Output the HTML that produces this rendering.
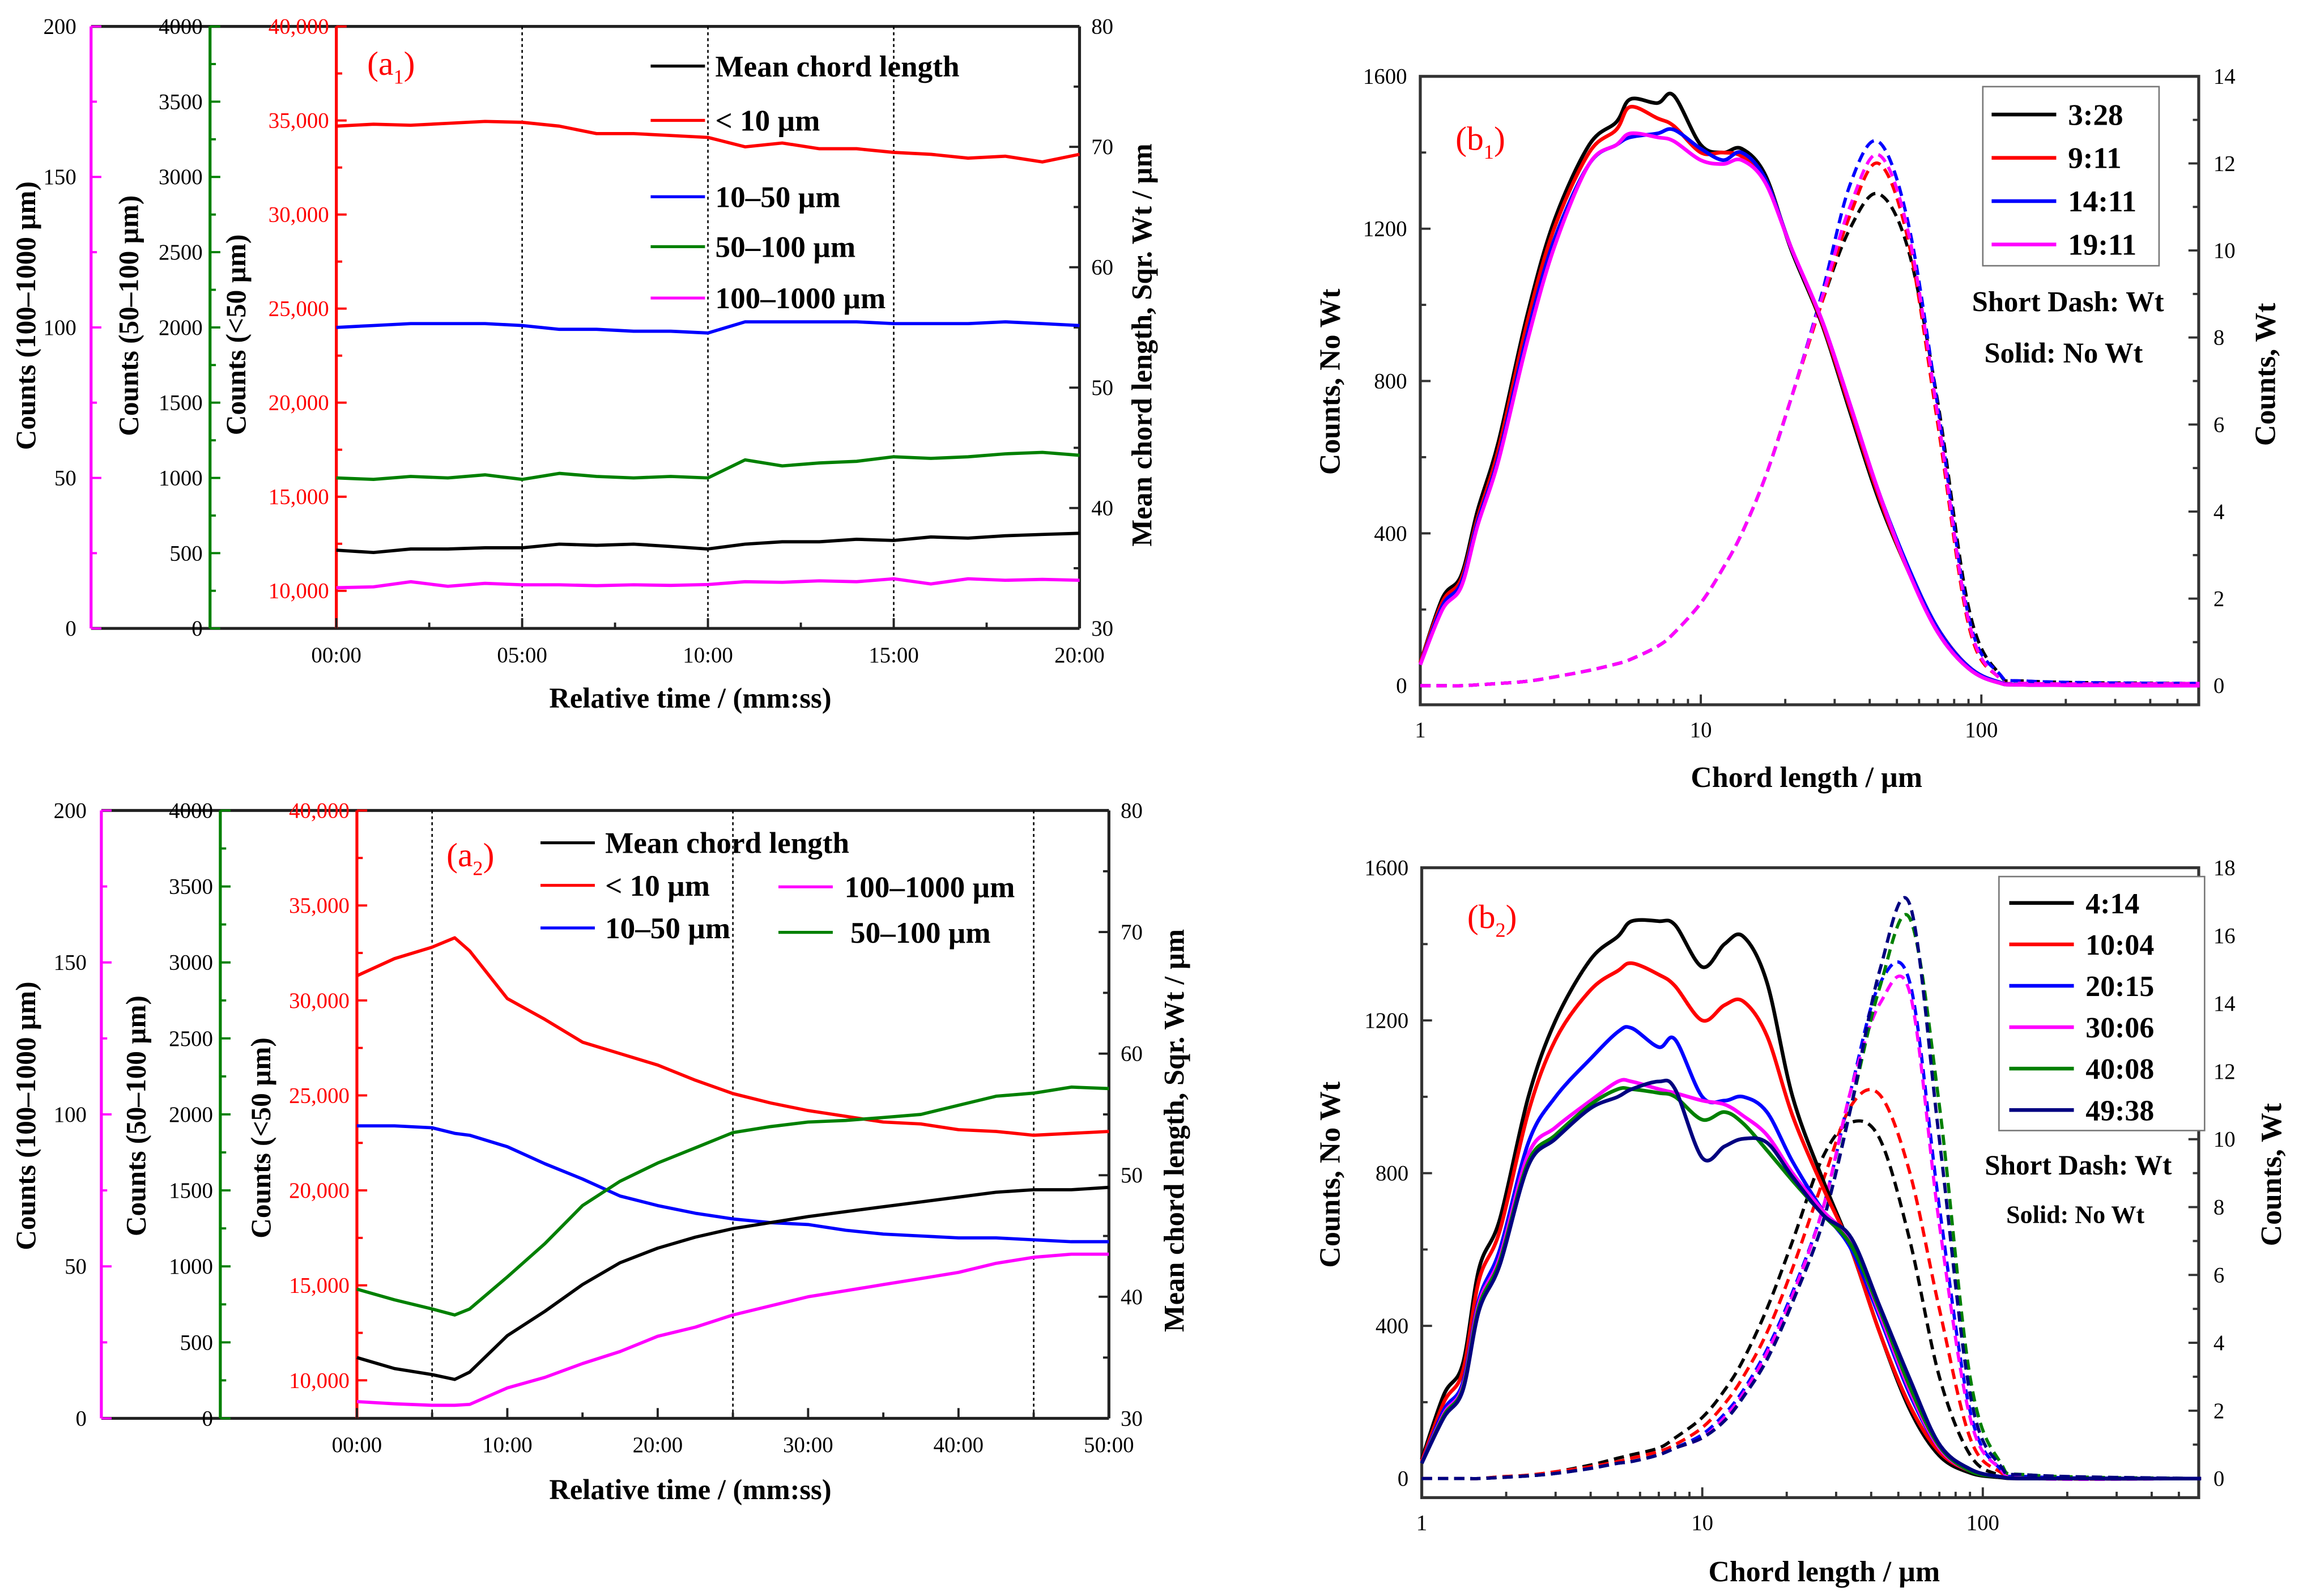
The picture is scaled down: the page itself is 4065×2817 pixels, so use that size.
<!DOCTYPE html>
<html><head><meta charset="utf-8"><style>
html,body{margin:0;padding:0;background:#fff;}
svg{display:block;font-family:"Liberation Serif",serif;}
</style></head><body>
<svg id="fig" xmlns="http://www.w3.org/2000/svg" width="4065" height="2817" viewBox="0 0 1568 1087" preserveAspectRatio="none">
<rect x="0" y="0" width="1568" height="1087" fill="#fff"/>
</svg>
<script>
// ---------- Panel a1 data (time in minutes) ----------
const a1Time = [0,1,2,3,4,5,6,7,8,9,10,11,12,13,14,15,16,17,18,19,20];
const a1Lt10 = [34700,34800,34750,34850,34950,34900,34700,34300,34300,34200,34100,33600,33800,33500,33500,33300,33200,33000,33100,32800,33200];
const a1B10to50 = [24000,24100,24200,24200,24200,24100,23900,23900,23800,23800,23700,24300,24300,24300,24300,24200,24200,24200,24300,24200,24100];
const a1B50to100 = [1000,990,1010,1000,1020,990,1030,1010,1000,1010,1000,1120,1080,1100,1110,1140,1130,1140,1160,1170,1150];
const a1B100to1000 = [13.5,13.8,15.5,14,15,14.5,14.5,14.2,14.5,14.3,14.6,15.5,15.3,15.8,15.5,16.5,14.8,16.5,16,16.3,16];
const a1Mean = [36.5,36.3,36.6,36.6,36.7,36.7,37.0,36.9,37.0,36.8,36.6,37.0,37.2,37.2,37.4,37.3,37.6,37.5,37.7,37.8,37.9];
const a1TickLabels = ["00:00","05:00","10:00","15:00","20:00"];
// ---------- Panel a2 data ----------
const a2Time = [0,2.5,5,6.5,7.5,10,12.5,15,17.5,20,22.5,25,27.5,30,32.5,35,37.5,40,42.5,45,47.5,50];
const a2Lt10 = [31300,32200,32800,33300,32600,30100,29000,27800,27200,26600,25800,25100,24600,24200,23900,23600,23500,23200,23100,22900,23000,23100];
const a2B10to50 = [23400,23400,23300,23000,22900,22300,21400,20600,19700,19200,18800,18500,18300,18200,17900,17700,17600,17500,17500,17400,17300,17300];
const a2B50to100 = [850,780,720,680,720,930,1150,1400,1560,1680,1780,1880,1920,1950,1960,1980,2000,2060,2120,2140,2180,2170];
const a2B100to1000 = [5.5,4.8,4.3,4.3,4.6,10,13.5,18,22,27,30,34,37,40,42,44,46,48,51,53,54,54];
const a2Mean = [35.0,34.1,33.6,33.2,33.8,36.8,38.8,41.0,42.8,44.0,44.9,45.6,46.1,46.6,47.0,47.4,47.8,48.2,48.6,48.8,48.8,49.0];
const a2TickLabels = ["00:00","10:00","20:00","30:00","40:00","50:00"];
// ---------- Panel b data (log x) ----------
const chord = [1,1.2,1.4,1.6,1.9,2.4,3,4,5,5.6,7,8,10,12,14,17,21,27,34,43,55,70,90,115,150,600];
const b1Labels = ["3:28","9:11","14:11","19:11"];
const b1Solid328 = [60,230,290,460,640,970,1220,1420,1480,1540,1530,1550,1420,1400,1410,1340,1145,950,720,490,300,140,45,8,2,0];
const b1Solid911 = [60,220,280,440,620,950,1200,1400,1460,1520,1490,1470,1400,1400,1390,1330,1150,955,730,500,300,150,50,10,2,0];
const b1Solid1411 = [55,210,270,430,600,920,1170,1370,1420,1440,1450,1460,1410,1380,1400,1330,1150,960,740,510,310,150,50,10,2,0];
const b1Solid1911 = [55,200,260,420,590,900,1150,1370,1420,1450,1440,1430,1380,1370,1380,1320,1150,960,740,510,300,140,45,8,2,0];
const b1Dash328 = [0,0,0,0.02,0.05,0.1,0.2,0.35,0.5,0.6,0.9,1.2,1.9,2.7,3.5,4.8,6.6,8.8,10.5,11.3,10.0,6.5,1.8,0.3,0.1,0.05];
const b1Dash911 = [0,0,0,0.02,0.05,0.1,0.2,0.35,0.5,0.6,0.9,1.2,1.9,2.7,3.5,4.8,6.6,8.8,10.8,12.0,10.2,6.0,1.4,0.2,0.05,0.05];
const b1Dash1411 = [0,0,0,0.02,0.05,0.1,0.2,0.35,0.5,0.6,0.9,1.2,1.9,2.7,3.5,4.8,6.6,9.0,11.5,12.5,10.6,6.4,1.6,0.3,0.1,0.05];
const b1Dash1911 = [0,0,0,0.02,0.05,0.1,0.2,0.35,0.5,0.6,0.9,1.2,1.9,2.7,3.5,4.8,6.6,8.9,11.0,12.2,10.4,6.2,1.5,0.2,0.05,0.05];
const b2Labels = ["4:14","10:04","20:15","30:06","40:08","49:38"];
const b2Solid414 = [50,220,300,550,680,1000,1200,1360,1420,1460,1460,1450,1340,1400,1420,1300,1000,780,600,380,180,60,15,3,0,0];
const b2Solid1004 = [45,200,280,520,650,960,1150,1280,1330,1350,1320,1290,1200,1240,1250,1160,950,760,600,380,190,70,20,5,0,0];
const b2Solid2015 = [40,180,250,470,600,880,1000,1100,1170,1180,1130,1150,1000,990,1000,960,830,700,600,420,220,80,20,5,0,0];
const b2Solid3006 = [40,170,240,460,580,850,920,990,1040,1040,1020,1010,990,980,950,900,800,700,620,430,230,80,20,5,0,0];
const b2Solid4008 = [40,165,235,450,570,830,900,980,1020,1020,1010,1000,940,960,930,860,780,690,610,440,240,85,20,5,0,0];
const b2Solid4938 = [40,160,230,440,560,820,890,970,1000,1020,1040,1020,840,870,890,880,790,690,630,450,260,90,25,5,0,0];
const b2Dash414 = [0,0,0,0,0.05,0.1,0.2,0.4,0.6,0.7,0.9,1.2,1.8,2.6,3.5,5,7,9.5,10.5,10,7,3,0.7,0.1,0,0];
const b2Dash1004 = [0,0,0,0,0.05,0.1,0.2,0.35,0.5,0.6,0.8,1.0,1.5,2.2,3,4.3,6.2,8.8,11,11.3,9,5,1.2,0.2,0,0];
const b2Dash2015 = [0,0,0,0,0.03,0.08,0.15,0.3,0.45,0.5,0.7,0.9,1.3,1.9,2.6,3.8,5.5,8,11.5,14.6,14.6,8,2,0.3,0.05,0];
const b2Dash3006 = [0,0,0,0,0.03,0.08,0.15,0.3,0.45,0.5,0.7,0.9,1.2,1.8,2.5,3.7,5.4,8,11.5,14,14.3,7.5,1.8,0.3,0,0];
const b2Dash4008 = [0,0,0,0,0.03,0.08,0.15,0.3,0.45,0.5,0.7,0.9,1.2,1.7,2.4,3.5,5.2,7.6,11,14.5,16.5,11,3,0.5,0.1,0];
const b2Dash4938 = [0,0,0,0,0.03,0.08,0.15,0.3,0.45,0.5,0.7,0.9,1.2,1.7,2.4,3.5,5.2,7.6,11,15,16.9,10,2.5,0.4,0.1,0];

const NS = "http://www.w3.org/2000/svg";
const svg = document.getElementById('fig');
function mk(tag, attrs, name, parent) {
  const el = document.createElementNS(NS, tag);
  for (const k in attrs) el.setAttribute(k, attrs[k]);
  
  
  (parent || svg).appendChild(el);
  return el;
}
function line(x1,y1,x2,y2,stroke,w,name,dash){
  const a={x1:x1,y1:y1,x2:x2,y2:y2,stroke:stroke,'stroke-width':w};
  if(dash) a['stroke-dasharray']=dash;
  return mk('line',a,name);
}
function text(x,y,s,opts,name){
  const a={x:x,y:y,'font-size':opts.size||15,fill:opts.fill||'#000','text-anchor':opts.anchor||'middle'};
  if(opts.bold) a['font-weight']='bold';
  if(opts.rot!==undefined) a.transform='rotate('+opts.rot+' '+x+' '+y+')';
  const t=mk('text',a,name);
  t.textContent=s;
  return t;
}
function panelLabel(x,y,letter,sub,name){
  const t=mk('text',{x:x,y:y,'font-size':23,fill:'#ff0000','text-anchor':'start'},name);
  t.appendChild(document.createTextNode('('+letter));
  const ts=document.createElementNS(NS,'tspan');
  ts.setAttribute('font-size','14');
  ts.setAttribute('dy','6');
  ts.textContent=sub;
  t.appendChild(ts);
  const ts2=document.createElementNS(NS,'tspan');
  ts2.setAttribute('dy','-6');
  ts2.textContent=')';
  t.appendChild(ts2);
}
function polyline(pts,stroke,w,name,dash){
  const a={points:pts.map(p=>p[0].toFixed(1)+','+p[1].toFixed(1)).join(' '),fill:'none',stroke:stroke,'stroke-width':w,'stroke-linejoin':'round'};
  if(dash) a['stroke-dasharray']=dash;
  return mk('polyline',a,name);
}
function smooth(pts,stroke,w,name,dash){
  let d='M'+pts[0][0]+','+pts[0][1];
  for(let i=0;i<pts.length-1;i++){
    const p0=pts[Math.max(0,i-1)],p1=pts[i],p2=pts[i+1],p3=pts[Math.min(pts.length-1,i+2)];
    const c1=[p1[0]+(p2[0]-p0[0])/6,p1[1]+(p2[1]-p0[1])/6];
    const c2=[p2[0]-(p3[0]-p1[0])/6,p2[1]-(p3[1]-p1[1])/6];
    d+=' C'+c1[0].toFixed(1)+','+c1[1].toFixed(1)+' '+c2[0].toFixed(1)+','+c2[1].toFixed(1)+' '+p2[0].toFixed(1)+','+p2[1].toFixed(1);
  }
  const a={d:d,fill:'none',stroke:stroke,'stroke-width':w,'stroke-linejoin':'round'};
  if(dash) a['stroke-dasharray']=dash;
  return mk('path',a,name);
}
function lin(d0,d1,r0,r1){return v=>r0+(v-d0)*(r1-r0)/(d1-d0);}

// ================= Panel a (generic builder) =================
function panelA(cfg){
  const {L,R,T,B,mx,gx,tMax,tStep,dotted,ticks,id}=cfg;
  const xs=lin(0,tMax,L,R);
  const yMag=lin(0,200,B,T), yGrn=lin(0,4000,B,T);
  const yRedA=lin(8000,40000,B,T);
  const yRight=lin(30,80,B,T);
  line(mx,T,R,T,'#222',2,id+'-top-frame');
  line(mx,B,R,B,'#222',2,id+'-bottom-frame');
  line(R,T,R,B,'#222',2,id+'-right-axis');
  dotted.forEach(t=>line(xs(t),T,xs(t),B,'#000',1,id+'-dotted-marker','2,2'));
  line(mx,T,mx,B,'#ff00ff',2,id+'-magenta-axis');
  for(let v=0;v<=200;v+=25){line(mx,yMag(v),mx+(v%50===0?7:4),yMag(v),'#ff00ff',1.5,id+'-magenta-tick');}
  [0,50,100,150,200].forEach(v=>text(mx-10,yMag(v)+5,String(v),{anchor:'end',size:15},id+'-magenta-tick-label'));
  line(gx,T,gx,B,'#008000',2,id+'-green-axis');
  for(let v=0;v<=4000;v+=250){line(gx,yGrn(v),gx+(v%500===0?7:4),yGrn(v),'#008000',1.5,id+'-green-tick');}
  for(let v=0;v<=4000;v+=500) text(gx-5,yGrn(v)+5,String(v),{anchor:'end',size:15},id+'-green-tick-label');
  line(L,T,L,B,'#ff0000',2,id+'-red-axis');
  for(let v=10000;v<=40000;v+=2500){line(L,yRedA(v),L+(v%5000===0?7:4),yRedA(v),'#ff0000',1.5,id+'-red-tick');}
  for(let v=10000;v<=40000;v+=5000) text(L-5,yRedA(v)+5,(v/1000)+',000',{anchor:'end',size:15,fill:'#ff0000'},id+'-red-tick-label');
  for(let v=30;v<=80;v+=5){line(R,yRight(v),R-(v%10===0?7:4),yRight(v),'#222',1.5,id+'-right-tick');}
  for(let v=30;v<=80;v+=10) text(R+8,yRight(v)+5,String(v),{anchor:'start',size:15},id+'-right-tick-label');
  for(let t=0;t<=tMax;t+=tStep/2){line(xs(t),B,xs(t),B-(t%tStep===0?7:4),'#222',1.5,id+'-x-tick');}
  ticks.forEach((s,i)=>text(xs(i*tStep),B+23,s,{size:15},id+'-x-tick-label'));
  return {xs,yMag,yGrn,yRedA,yRight};
}

// ---- a1 ----
const A1=panelA({L:229,R:735,T:18,B:428,mx:62,gx:143,tMax:20,tStep:5,dotted:[5,10,15],ticks:a1TickLabels,id:'a1'});
polyline(a1Time.map((t,i)=>[A1.xs(t),A1.yRedA(a1Lt10[i])]),'#ff0000',2.2,'a1-series-lt10');
polyline(a1Time.map((t,i)=>[A1.xs(t),A1.yRedA(a1B10to50[i])]),'#0000ff',2.2,'a1-series-10-50');
polyline(a1Time.map((t,i)=>[A1.xs(t),A1.yGrn(a1B50to100[i])]),'#008000',2.2,'a1-series-50-100');
polyline(a1Time.map((t,i)=>[A1.xs(t),A1.yRight(a1Mean[i])]),'#000',2.2,'a1-series-mean-chord');
polyline(a1Time.map((t,i)=>[A1.xs(t),A1.yMag(a1B100to1000[i])]),'#ff00ff',2.2,'a1-series-100-1000');
text(24,215,'Counts (100–1000 µm)',{size:19,bold:true,rot:-90},'a1-magenta-axis-title');
text(94,215,'Counts (50–100 µm)',{size:19,bold:true,rot:-90},'a1-green-axis-title');
text(167,228,'Counts (<50 µm)',{size:19,bold:true,rot:-90},'a1-red-axis-title');
text(784,235,'Mean chord length, Sqr. Wt / µm',{size:19.5,bold:true,rot:-90},'a1-right-axis-title');
text(470,482,'Relative time / (mm:ss)',{size:19.5,bold:true},'a1-x-axis-title');
[['Mean chord length','#000',45],['< 10 µm','#ff0000',82],['10–50 µm','#0000ff',134],['50–100 µm','#008000',168],['100–1000 µm','#ff00ff',203]].forEach(e=>{
  line(443,e[2],480,e[2],e[1],2,'a1-legend-line');
  text(487,e[2]+7,e[0],{anchor:'start',size:20.5,bold:true},'a1-legend-label');
});
panelLabel(250,51,'a','1','a1-panel-label');

// ---- a2 ----
const A2=panelA({L:243,R:755,T:552,B:966,mx:69,gx:150,tMax:50,tStep:10,dotted:[5,25,45],ticks:a2TickLabels,id:'a2'});
polyline(a2Time.map((t,i)=>[A2.xs(t),A2.yRedA(a2Lt10[i])]),'#ff0000',2.2,'a2-series-lt10');
polyline(a2Time.map((t,i)=>[A2.xs(t),A2.yRedA(a2B10to50[i])]),'#0000ff',2.2,'a2-series-10-50');
polyline(a2Time.map((t,i)=>[A2.xs(t),A2.yGrn(a2B50to100[i])]),'#008000',2.2,'a2-series-50-100');
polyline(a2Time.map((t,i)=>[A2.xs(t),A2.yRight(a2Mean[i])]),'#000',2.2,'a2-series-mean-chord');
polyline(a2Time.map((t,i)=>[A2.xs(t),A2.yMag(a2B100to1000[i])]),'#ff00ff',2.2,'a2-series-100-1000');
text(24,760,'Counts (100–1000 µm)',{size:19,bold:true,rot:-90},'a2-magenta-axis-title');
text(99,760,'Counts (50–100 µm)',{size:19,bold:true,rot:-90},'a2-green-axis-title');
text(184,775,'Counts (<50 µm)',{size:19,bold:true,rot:-90},'a2-red-axis-title');
text(806,770,'Mean chord length, Sqr. Wt / µm',{size:19.5,bold:true,rot:-90},'a2-right-axis-title');
text(470,1021,'Relative time / (mm:ss)',{size:19.5,bold:true},'a2-x-axis-title');
[['Mean chord length','#000',368,412,574],['< 10 µm','#ff0000',368,412,603],['10–50 µm','#0000ff',368,412,632],['100–1000 µm','#ff00ff',530,575,604],['50–100 µm','#008000',530,579,635]].forEach(e=>{
  line(e[2],e[4],e[2]+37,e[4],e[1],2,'a2-legend-line');
  text(e[3],e[4]+7,e[0],{anchor:'start',size:20.5,bold:true},'a2-legend-label');
});
panelLabel(304,590,'a','2','a2-panel-label');

// ================= Panel b builder =================
function panelB(cfg){
  const {L,R,T,B,Y0,rMax,rStep,id}=cfg;
  const xs=v=>L+Math.log10(v)*191;
  const yl=lin(0,1600,Y0,T), yr=lin(0,rMax,Y0,T);
  mk('rect',{x:L,y:T,width:R-L,height:B-T,fill:'none',stroke:'#333','stroke-width':2},id+'-plot-frame');
  for(let v=0;v<=1600;v+=200){line(L,yl(v),L+(v%400===0?7:4),yl(v),'#333',1.5,id+'-left-tick');}
  for(let v=0;v<=1600;v+=400) text(L-9,yl(v)+5,String(v),{anchor:'end',size:15},id+'-left-tick-label');
  for(let v=0;v<=rMax;v+=rStep/2){line(R,yr(v),R-(Math.abs(v%rStep)<1e-9?7:4),yr(v),'#333',1.5,id+'-right-tick');}
  for(let v=0;v<=rMax;v+=rStep) text(R+10,yr(v)+5,String(v),{anchor:'start',size:15},id+'-right-tick-label');
  for(let d=0;d<3;d++){for(let k=1;k<=9;k++){const v=k*Math.pow(10,d);if(v>596)break;line(xs(v),B,xs(v),B-(k===1?7:4),'#333',1.5,id+'-x-tick');}}
  ['1','10','100'].forEach((s,i)=>text(xs(Math.pow(10,i)),B+22,s,{size:15},id+'-x-tick-label'));
  return {xs,yl,yr};
}
const colsB1=['#000','#ff0000','#0000ff','#ff00ff'];
const B1=panelB({L:967,R:1497,T:52,B:480,Y0:467,rMax:14,rStep:2,id:'b1'});
[b1Dash328,b1Dash911,b1Dash1411,b1Dash1911].forEach((s,j)=>smooth(chord.map((c,i)=>[B1.xs(c),B1.yr(s[i])]),colsB1[j],2.2,'b1-dash-'+b1Labels[j],'7,4'));
[b1Solid328,b1Solid911,b1Solid1411,b1Solid1911].forEach((s,j)=>smooth(chord.map((c,i)=>[B1.xs(c),B1.yl(s[i])]),colsB1[j],2.5,'b1-solid-'+b1Labels[j]));
mk('rect',{x:1350,y:59,width:120,height:122,fill:'#fff',stroke:'#777','stroke-width':1},'b1-legend-box');
b1Labels.forEach((s,j)=>{const y=78+j*29.5;line(1356,y,1400,y,colsB1[j],2.5,'b1-legend-line');text(1408,y+7,s,{anchor:'start',size:20.5,bold:true},'b1-legend-label');});
text(1408,212,'Short Dash: Wt',{size:19.5,bold:true},'b1-note-dash');
text(1405,247,'Solid: No Wt',{size:19.5,bold:true},'b1-note-solid');
text(912,260,'Counts, No Wt',{size:20,bold:true,rot:-90},'b1-left-axis-title');
text(1549,255,'Counts, Wt',{size:20,bold:true,rot:-90},'b1-right-axis-title');
text(1230,536,'Chord length / µm',{size:20,bold:true},'b1-x-axis-title');
panelLabel(991,102,'b','1','b1-panel-label');

const colsB2=['#000','#ff0000','#0000ff','#ff00ff','#008000','#000080'];
const B2=panelB({L:968,R:1497,T:591,B:1020,Y0:1007,rMax:18,rStep:2,id:'b2'});
[b2Dash414,b2Dash1004,b2Dash2015,b2Dash3006,b2Dash4008,b2Dash4938].forEach((s,j)=>smooth(chord.map((c,i)=>[B2.xs(c),B2.yr(s[i])]),colsB2[j],2.2,'b2-dash-'+b2Labels[j],'7,4'));
[b2Solid414,b2Solid1004,b2Solid2015,b2Solid3006,b2Solid4008,b2Solid4938].forEach((s,j)=>smooth(chord.map((c,i)=>[B2.xs(c),B2.yl(s[i])]),colsB2[j],2.5,'b2-solid-'+b2Labels[j]));
mk('rect',{x:1361,y:597,width:140,height:173,fill:'#fff',stroke:'#777','stroke-width':1},'b2-legend-box');
b2Labels.forEach((s,j)=>{const y=615+j*28.2;line(1368,y,1412,y,colsB2[j],2.5,'b2-legend-line');text(1420,y+7,s,{anchor:'start',size:20,bold:true},'b2-legend-label');});
text(1415,800,'Short Dash: Wt',{size:19,bold:true},'b2-note-dash');
text(1413,833,'Solid: No Wt',{size:17,bold:true},'b2-note-solid');
text(912,800,'Counts, No Wt',{size:20,bold:true,rot:-90},'b2-left-axis-title');
text(1553,800,'Counts, Wt',{size:20,bold:true,rot:-90},'b2-right-axis-title');
text(1242,1077,'Chord length / µm',{size:20,bold:true},'b2-x-axis-title');
panelLabel(999,632,'b','2','b2-panel-label');
</script>
</body></html>
